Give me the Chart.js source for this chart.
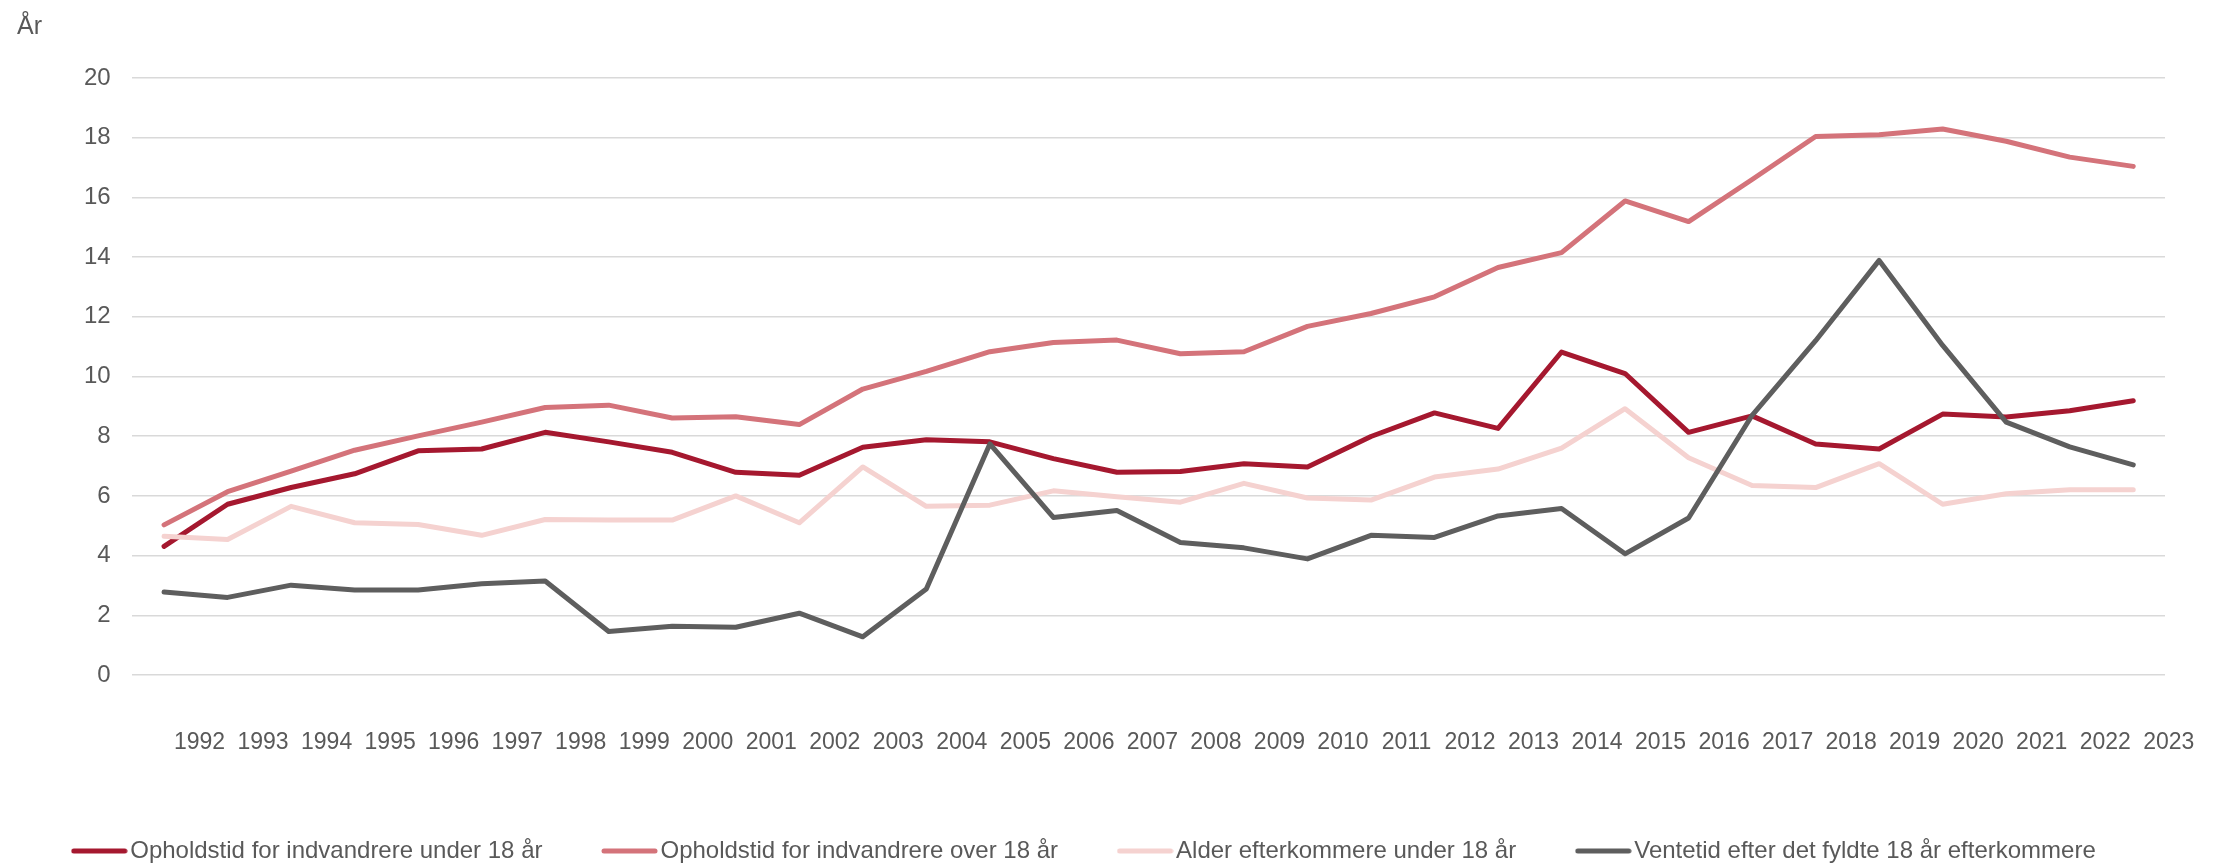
<!DOCTYPE html>
<html>
<head>
<meta charset="utf-8">
<script src="https://cdn.jsdelivr.net/npm/chart.js@4.4.1/dist/chart.umd.min.js"></script>
<style>
  html, body { margin: 0; padding: 0; background: #ffffff; }
  #wrap { width: 2223px; height: 863px; }
</style>
</head>
<body>
<div id="wrap"><canvas id="c" width="2223" height="863"></canvas></div>
<script>
const years = ['1992','1993','1994','1995','1996','1997','1998','1999','2000','2001','2002','2003','2004','2005','2006','2007','2008','2009','2010','2011','2012','2013','2014','2015','2016','2017','2018','2019','2020','2021','2022','2023'];

const seriesNames = [
  'Opholdstid for indvandrere under 18 år',
  'Opholdstid for indvandrere over 18 år',
  'Alder efterkommere under 18 år',
  'Ventetid efter det fyldte 18 år efterkommere'
];

const under18 = [4.31, 5.72, 6.28, 6.74, 7.51, 7.57, 8.13, 7.81, 7.46, 6.79, 6.69, 7.63, 7.88, 7.81, 7.25, 6.79, 6.82, 7.08, 6.97, 7.99, 8.78, 8.26, 10.82, 10.10, 8.13, 8.68, 7.74, 7.57, 8.74, 8.64, 8.85, 9.19];
const over18 = [5.03, 6.14, 6.83, 7.53, 8.01, 8.47, 8.96, 9.04, 8.61, 8.65, 8.39, 9.58, 10.17, 10.83, 11.14, 11.22, 10.76, 10.83, 11.68, 12.11, 12.67, 13.65, 14.15, 15.88, 15.19, 16.6, 18.04, 18.10, 18.29, 17.88, 17.35, 17.04];
const efterkommere = [4.65, 4.54, 5.65, 5.10, 5.04, 4.68, 5.21, 5.19, 5.19, 6.0, 5.10, 6.97, 5.65, 5.69, 6.17, 5.97, 5.79, 6.42, 5.93, 5.86, 6.63, 6.9, 7.6, 8.92, 7.28, 6.35, 6.28, 7.08, 5.72, 6.07, 6.21, 6.21];
const ventetid = [2.78, 2.60, 3.01, 2.85, 2.85, 3.06, 3.15, 1.46, 1.63, 1.60, 2.07, 1.28, 2.88, 7.74, 5.28, 5.51, 4.44, 4.26, 3.89, 4.68, 4.61, 5.33, 5.58, 4.06, 5.26, 8.7, 11.2, 13.89, 11.04, 8.47, 7.64, 7.04];

const colors = ['#A5182F', '#D4737A', '#F5D2D0', '#5E5E5E'];
const yTitle = 'År';

Chart.defaults.font.family = "'Liberation Sans', Arial, sans-serif";
Chart.defaults.color = '#595959';

function lineSample(color) {
  const c = document.createElement('canvas');
  c.width = 57; c.height = 6;
  const g = c.getContext('2d');
  g.strokeStyle = color; g.lineWidth = 5; g.lineCap = 'round';
  g.beginPath(); g.moveTo(3, 3); g.lineTo(54, 3); g.stroke();
  return c;
}
const samples = colors.map(lineSample);

function ds(label, data, color, order) {
  return {
    label, data, borderColor: color, backgroundColor: color,
    borderWidth: 5, pointRadius: 0, pointHoverRadius: 0, tension: 0,
    borderJoinStyle: 'round', borderCapStyle: 'round', fill: false, order
  };
}

const shiftPlugin = {
  id: 'shiftBoxes',
  afterLayout(chart) {
    if (chart.titleBlock) { chart.titleBlock.left += 17; chart.titleBlock.right += 17; }
    if (chart.legend) { chart.legend.left -= 23.5; chart.legend.right -= 23.5; }
  }
};

new Chart(document.getElementById('c'), {
  type: 'line',
  data: {
    labels: years,
    datasets: [
      ds(seriesNames[0], under18, colors[0], 4),
      ds(seriesNames[1], over18, colors[1], 3),
      ds(seriesNames[2], efterkommere, colors[2], 2),
      ds(seriesNames[3], ventetid, colors[3], 1)
    ]
  },
  plugins: [shiftPlugin],
  options: {
    responsive: false,
    animation: false,
    devicePixelRatio: 1,
    layout: { padding: { left: 0, right: 0, top: 0, bottom: -10 } },
    plugins: {
      tooltip: { enabled: false },
      title: {
        display: true, text: yTitle, align: 'start', color: '#595959',
        font: { size: 25, weight: 'normal', lineHeight: 1.2 },
        padding: { top: 12.5, bottom: 35.5 }
      },
      legend: {
        position: 'bottom',
        labels: {
          usePointStyle: true,
          pointStyleWidth: 38,
          padding: 68,
          color: '#595959',
          font: { size: 24 },
          sort: (a, b) => a.datasetIndex - b.datasetIndex,
          generateLabels(chart) {
            const items = Chart.defaults.plugins.legend.labels.generateLabels(chart);
            items.forEach(it => { it.pointStyle = samples[it.datasetIndex]; it.lineWidth = 0; });
            return items;
          }
        }
      }
    },
    scales: {
      x: {
        type: 'category',
        offset: true,
        grid: { display: false },
        border: { display: false },
        ticks: {
          autoSkip: false, maxRotation: 0, minRotation: 0,
          labelOffset: 35.5, padding: 46,
          color: '#595959', font: { size: 23 }
        },
        afterFit(scale) { scale.height = 96; scale.paddingLeft = 0; scale.paddingRight = 58; }
      },
      y: {
        min: 0, max: 20,
        grid: { color: '#d9d9d9', lineWidth: 1.5, drawTicks: false },
        border: { display: false },
        ticks: { stepSize: 2, padding: 21.6, color: '#595959', font: { size: 24 } },
        afterFit(scale) { scale.width = 132.3; }
      }
    }
  }
});
</script>
</body>
</html>
